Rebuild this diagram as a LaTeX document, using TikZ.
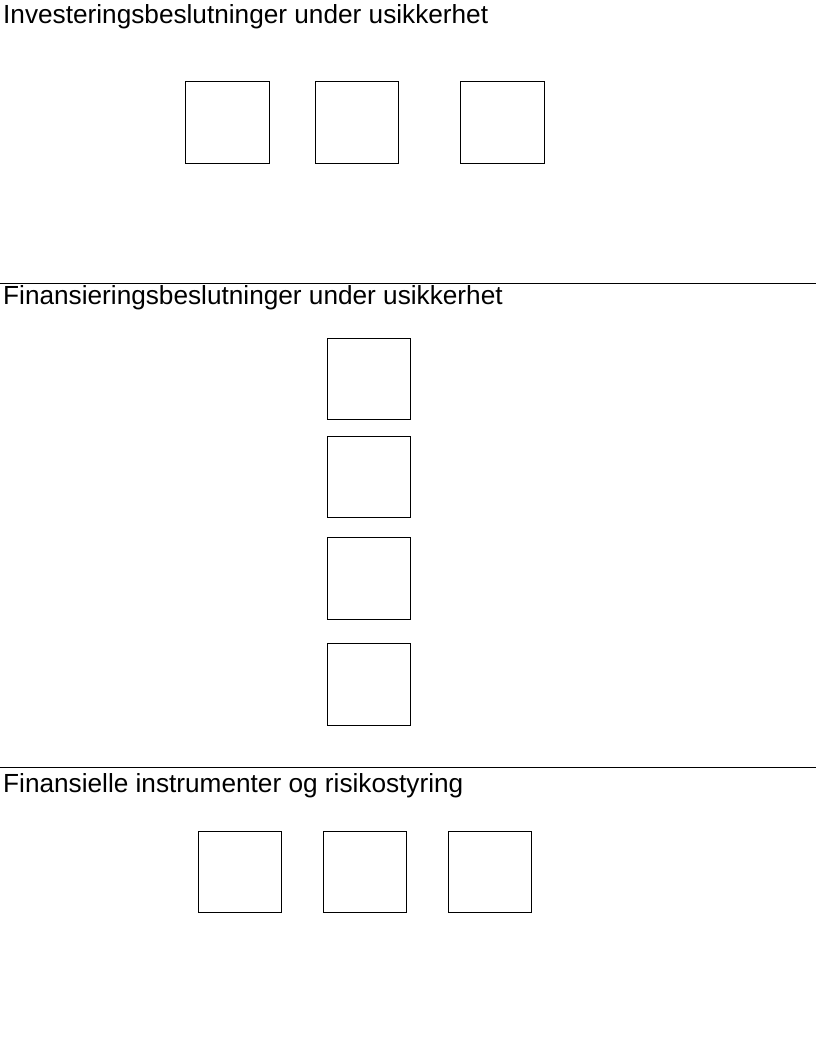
\documentclass[tikz,border=0pt]{standalone}
\usepackage{fontspec}
\setmainfont{Liberation Sans}
\begin{document}
\begin{tikzpicture}[x=1pt,y=-1pt,
  box/.style={draw=black,line width=0.9pt,fill=white},
  title/.style={anchor=base west,inner sep=0pt,font=\fontsize{26.2}{30}\selectfont},
  rule/.style={draw=black,line width=0.9pt}]
\useasboundingbox[fill=white] (0,0) rectangle (816,1056);
% titles
\node[title] (t1) at (3,23.5) {Investeringsbeslutninger under usikkerhet};
\node[title] (t2) at (3,304) {Finansieringsbeslutninger under usikkerhet};
\node[title] (t3) at (3,792) {Finansielle instrumenter og risikostyring};
% separators
\coordinate (l1a) at (0,283); \coordinate (l1b) at (816,283);
\coordinate (l2a) at (0,767); \coordinate (l2b) at (816,767);
\draw[rule] (l1a) -- (l1b);
\draw[rule] (l2a) -- (l2b);
% top row
\draw[box] (185,81) rectangle (269,163);
\draw[box] (315,81) rectangle (398,163);
\draw[box] (460,81) rectangle (544,163);
% middle column
\draw[box] (327,338) rectangle (410,419);
\draw[box] (327,436) rectangle (410,517);
\draw[box] (327,537) rectangle (410,619);
\draw[box] (327,643) rectangle (410,725);
% bottom row
\draw[box] (198,831) rectangle (281,912);
\draw[box] (323,831) rectangle (406,912);
\draw[box] (448,831) rectangle (531,912);
\end{tikzpicture}
\end{document}
